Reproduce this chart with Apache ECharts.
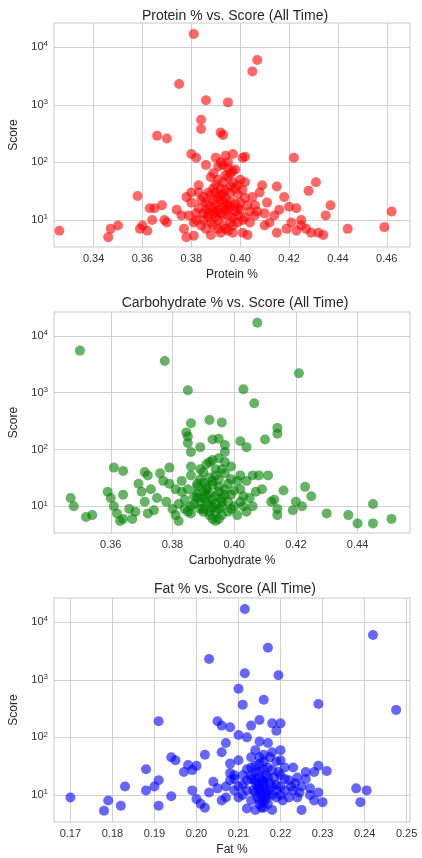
<!DOCTYPE html>
<html>
<head>
<meta charset="utf-8">
<script src="https://cdn.jsdelivr.net/npm/echarts@6/dist/echarts.min.js"></script>
<style>
  html, body { margin: 0; padding: 0; background: #fff; }
  #chart { width: 422px; height: 858px; }
</style>
</head>
<body>
<div id="chart"></div>
<script>
// [fraction, score]
const proteinPoints = [[0.381,17000],[0.407,6000],[0.405,3800],[0.375,2300],[0.386,1200],[0.395,1100],[0.384,550],[0.384,380],[0.392,330],[0.393,300],[0.366,290],[0.370,260],[0.380,140],[0.382,120],[0.397,140],[0.401,120],[0.402,125],[0.422,120],[0.394,130],[0.390,120],[0.386,90],[0.392,100],[0.395,80],[0.398,75],[0.431,45],[0.400,50],[0.402,45],[0.409,40],[0.415,38],[0.428,32],[0.358,26],[0.418,25],[0.437,18],[0.462,14],[0.435,12],[0.368,18],[0.365,16],[0.363,16],[0.364,10],[0.369,10],[0.370,9],[0.350,8],[0.347,7],[0.326,6.5],[0.346,5],[0.359,7],[0.360,8],[0.362,6.5],[0.380,30],[0.383,30],[0.387,30],[0.374,15],[0.376,12],[0.377,7],[0.378,5],[0.381,5.3],[0.444,7],[0.459,7.5],[0.432,6],[0.434,5.5],[0.429,6],[0.425,8],[0.427,7],[0.421,9],[0.423,6.5],[0.419,7],[0.415,6],[0.412,9],[0.414,12],[0.410,13],[0.416,15],[0.420,17],[0.423,16],[0.425,10],[0.403,5.5],[0.401,6],[0.397,8],[0.392,6],[0.388,5.5],[0.386,7],[0.384,8],[0.382,10],[0.385,13],[0.387,18],[0.389,22],[0.391,25],[0.393,20],[0.395,15],[0.396,30],[0.398,35],[0.399,12],[0.401,10],[0.403,18],[0.405,25],[0.407,14],[0.404,9],[0.391,10],[0.389,8],[0.393,12],[0.396,9],[0.390,40],[0.388,55],[0.394,60],[0.397,45],[0.399,28],[0.392,35],[0.386,20],[0.383,16],[0.379,12],[0.381,9],[0.394,7],[0.390,14],[0.395,18],[0.400,20],[0.406,12],[0.408,30],[0.411,20],[0.385,25],[0.391,50],[0.396,65],[0.389,16],[0.393,28],[0.387,11],[0.399,16],[0.402,11],[0.410,8],[0.383,40],[0.378,25],[0.380,20],
  [0.388,9],[0.390,11],[0.392,13],[0.394,15],[0.396,17],[0.398,19],[0.389,13],[0.391,15],[0.393,17],[0.395,12],[0.397,11],[0.390,19],[0.392,22],[0.394,24],[0.396,21],[0.398,14],[0.388,27],[0.390,30],[0.392,27],[0.394,33],[0.396,38],[0.391,7],[0.393,8],[0.395,6.5],[0.397,6],[0.399,9],[0.387,13],[0.389,35],[0.393,45],[0.395,55],[0.397,70],[0.400,15],[0.402,24],[0.384,22],[0.386,15],[0.385,10],[0.382,13],[0.399,40],[0.401,33],[0.404,14],[0.406,18],[0.393,90],[0.391,85],[0.395,100],[0.389,65]]

const carbPoints = [[0.4075,17000],[0.350,5500],[0.3775,3600],[0.421,2200],[0.385,1100],[0.403,1150],[0.4065,650],[0.392,330],[0.396,300],[0.386,290],[0.3845,200],[0.385,170],[0.414,240],[0.414,190],[0.393,150],[0.395,155],[0.389,110],[0.402,140],[0.410,150],[0.404,110],[0.397,120],[0.361,48],[0.364,42],[0.379,48],[0.376,38],[0.371,40],[0.386,50],[0.399,50],[0.402,35],[0.406,35],[0.408,35],[0.411,35],[0.423,22],[0.416,19],[0.425,15],[0.420,12],[0.419,8.5],[0.422,10],[0.430,7.5],[0.437,7],[0.445,11],[0.440,5],[0.445,5],[0.451,6],[0.347,14],[0.348,10],[0.352,6.5],[0.354,7],[0.359,18],[0.360,14],[0.361,10],[0.362,7.5],[0.363,5.5],[0.364,6],[0.364,16],[0.366,9],[0.367,6],[0.368,8],[0.369,25],[0.370,18],[0.371,12],[0.372,7.5],[0.373,20],[0.374,8.5],[0.372,35],[0.375,14],[0.377,28],[0.379,25],[0.378,12],[0.380,9],[0.381,7],[0.382,5.5],[0.381,20],[0.383,18],[0.384,13],[0.385,8],[0.386,10],[0.387,15],[0.388,22],[0.389,30],[0.390,18],[0.391,12],[0.392,8],[0.393,6],[0.394,5.5],[0.395,9],[0.396,14],[0.397,20],[0.398,25],[0.399,16],[0.400,10],[0.401,7],[0.402,12],[0.403,15],[0.404,8],[0.405,14],[0.406,10],[0.407,18],[0.409,20],[0.412,12],[0.413,13],[0.414,9],[0.414,7],[0.390,40],[0.392,60],[0.394,35],[0.396,45],[0.393,28],[0.391,22],[0.395,30],[0.388,14],[0.392,17],[0.394,11],[0.389,9],[0.396,7],[0.398,8],[0.390,26],[0.386,35],[0.383,28],[0.397,38],[0.399,30],[0.401,28],[0.404,28],
  [0.389,12],[0.390,14],[0.391,16],[0.392,11],[0.393,13],[0.394,15],[0.395,18],[0.396,12],[0.390,9],[0.392,7],[0.394,8],[0.396,10],[0.391,20],[0.393,24],[0.395,22],[0.397,16],[0.388,17],[0.387,11],[0.386,7.5],[0.398,12],[0.399,9],[0.392,32],[0.394,45],[0.393,65],[0.395,70],[0.391,55],[0.389,45],[0.397,60],[0.390,8],[0.393,9.5],[0.395,6],[0.384,9],[0.382,11],[0.385,20],[0.400,19],[0.402,20],[0.403,10],[0.386,90],[0.385,130],[0.397,90],[0.388,25]]

const fatPoints = [[0.2115,17000],[0.242,6000],[0.217,3600],[0.203,2300],[0.2115,1300],[0.2195,1200],[0.210,700],[0.211,370],[0.216,450],[0.229,380],[0.2475,300],[0.191,190],[0.205,190],[0.206,160],[0.208,150],[0.215,200],[0.213,160],[0.218,175],[0.220,175],[0.219,130],[0.210,110],[0.212,100],[0.207,80],[0.215,85],[0.217,80],[0.220,60],[0.202,50],[0.194,45],[0.195,40],[0.198,33],[0.199,27],[0.197,25],[0.200,32],[0.188,28],[0.191,18],[0.190,14],[0.188,12],[0.183,14],[0.182,6.5],[0.179,8],[0.178,5.3],[0.170,9],[0.191,6.5],[0.194,9.5],[0.199,12],[0.200,8.5],[0.201,7],[0.202,6],[0.203,11],[0.204,17],[0.205,13],[0.206,8],[0.207,9],[0.208,18],[0.209,22],[0.210,14],[0.211,10],[0.212,28],[0.213,45],[0.214,18],[0.215,12],[0.216,9],[0.217,7],[0.218,5.5],[0.219,15],[0.220,22],[0.221,30],[0.222,18],[0.223,12],[0.224,9],[0.225,14],[0.226,19],[0.227,13],[0.228,8],[0.229,11],[0.228,25],[0.229,32],[0.231,26],[0.230,7.5],[0.225,5.5],[0.238,13],[0.2405,12],[0.239,7.5],[0.214,25],[0.215,35],[0.216,50],[0.214,60],[0.215,16],[0.216,13],[0.217,20],[0.218,27],[0.219,38],[0.220,40],[0.221,12],[0.222,9],[0.213,8],[0.212,5.8],[0.214,5.5],[0.216,6],[0.217,10],[0.215,20],[0.216,28],[0.210,40],[0.208,35],[0.206,55],[0.209,19],[0.211,15],[0.212,18],[0.213,22],[0.214,11],[0.215,8],[0.216,17],[0.218,14],[0.219,9],[0.220,10],[0.223,30],[0.224,20],[0.226,25],[0.227,10],
  [0.2145,9],[0.2155,10],[0.2165,11],[0.2150,13],[0.2160,15],[0.2155,18],[0.2145,14],[0.2150,7],[0.2160,7.5],[0.2165,8.5],[0.2155,6],[0.2170,12],[0.2175,16],[0.2140,16],[0.2135,12],[0.2130,19],[0.2180,10],[0.2185,20],[0.2190,12],[0.2195,25],[0.2200,14],[0.2205,8],[0.2210,19],[0.2130,30],[0.2150,45],[0.2160,38],[0.2170,30],[0.2120,12],[0.2110,22],[0.2100,9],[0.2090,12],[0.2080,24],[0.2070,14],[0.2225,14],[0.2235,16],[0.2245,11],[0.2150,25],[0.2165,22],[0.2140,32],[0.2175,45],[0.2180,55]]

const titles = ['Protein % vs. Score (All Time)', 'Carbohydrate % vs. Score (All Time)', 'Fat % vs. Score (All Time)']
const xNames = ['Protein %', 'Carbohydrate %', 'Fat %']
const colors = ['#ff0000', '#008000', '#0000ff']
const yTicks = [1, 2, 3, 4] // log10 of 10,100,1000,10000

const font = 'Liberation Sans, Arial, sans-serif'
const panels = [
  { data: proteinPoints, top: 23, height: 224, xmin: 0.3238, xmax: 0.4695, interval: 0.02, titleTop: 4 },
  { data: carbPoints, top: 312, height: 221, xmin: 0.3416, xmax: 0.457, interval: 0.02, titleTop: 291 },
  { data: fatPoints, top: 598, height: 224, xmin: 0.1661, xmax: 0.2508, interval: 0.01, titleTop: 577 }
]

function xTicks(p) {
  const v = []
  for (let t = Math.ceil(p.xmin / p.interval - 1e-9); t * p.interval <= p.xmax + 1e-9; t++) v.push(+(t * p.interval).toFixed(2))
  return v
}

const chart = echarts.init(document.getElementById('chart'))
const option = {
  animation: false,
  title: panels.map((p, i) => ({
    text: titles[i], left: 230, top: p.titleTop, textAlign: 'center',
    textStyle: { fontFamily: font, fontSize: 14, fontWeight: 'normal', color: '#262626' }
  })),
  grid: panels.map(p => ({
    left: 51, right: 12, top: p.top, height: p.height,
    show: true, borderColor: '#c8c8c8', borderWidth: 1, containLabel: false
  })),
  xAxis: panels.map((p, i) => ({
    type: 'value', gridIndex: i, min: p.xmin, max: p.xmax,
    axisLabel: {
      customValues: xTicks(p),
      formatter: v => v.toFixed(2), color: '#333', fontFamily: font, fontSize: 11, margin: 6
    },
    axisTick: { show: false, customValues: xTicks(p) },
    axisLine: { show: false },
    splitLine: { show: true, lineStyle: { color: '#d0d0d0' } },
    name: xNames[i], nameLocation: 'middle', nameGap: 22,
    nameTextStyle: { color: '#262626', fontFamily: font, fontSize: 12 }
  })),
  yAxis: panels.map((p, i) => ({
    type: 'value', gridIndex: i, min: 0.53, max: 4.42,
    axisLabel: {
      customValues: yTicks,
      formatter: v => '{b|10}{s|' + Math.round(v) + '}',
      rich: {
        b: { fontFamily: font, fontSize: 11, color: '#333' },
        s: { fontFamily: font, fontSize: 8, color: '#333', verticalAlign: 'top', padding: [0, 0, 6, 0] }
      },
      margin: 6
    },
    axisTick: { show: false, customValues: yTicks },
    axisLine: { show: false },
    splitLine: { show: true, lineStyle: { color: '#d0d0d0' } },
    name: 'Score', nameLocation: 'middle', nameGap: 34,
    nameTextStyle: { color: '#262626', fontFamily: font, fontSize: 12 }
  })),
  series: panels.map((p, i) => ({
    type: 'scatter', xAxisIndex: i, yAxisIndex: i,
    symbolSize: 10,
    itemStyle: { color: colors[i], opacity: 0.6 },
    data: p.data.map(d => [d[0], Math.log10(d[1])])
  }))
}
chart.setOption(option)
window.addEventListener('resize', () => chart.resize())
</script>
</body>
</html>
